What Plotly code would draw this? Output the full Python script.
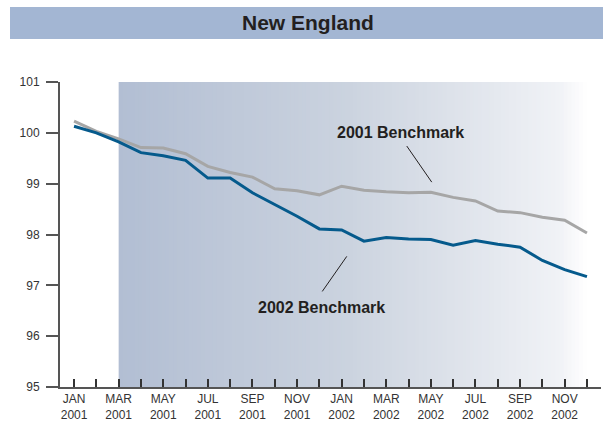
import plotly.graph_objects as go

months = ["JAN<br>2001", "FEB<br>2001", "MAR<br>2001", "APR<br>2001", "MAY<br>2001", "JUN<br>2001",
          "JUL<br>2001", "AUG<br>2001", "SEP<br>2001", "OCT<br>2001", "NOV<br>2001", "DEC<br>2001",
          "JAN<br>2002", "FEB<br>2002", "MAR<br>2002", "APR<br>2002", "MAY<br>2002", "JUN<br>2002",
          "JUL<br>2002", "AUG<br>2002", "SEP<br>2002", "OCT<br>2002", "NOV<br>2002", "DEC<br>2002"]

bench_2001 = [100.23, 100.03, 99.88, 99.71, 99.70, 99.59, 99.34, 99.22, 99.13, 98.90, 98.86, 98.78,
              98.95, 98.87, 98.84, 98.82, 98.83, 98.73, 98.66, 98.46, 98.43, 98.34, 98.28, 98.03]
bench_2002 = [100.13, 100.00, 99.82, 99.61, 99.55, 99.46, 99.11, 99.11, 98.82, 98.59, 98.36, 98.11,
              98.09, 97.87, 97.94, 97.91, 97.90, 97.79, 97.88, 97.81, 97.75, 97.49, 97.31, 97.17]

y_ticks = [95, 96, 97, 98, 99, 100, 101]

x = list(range(len(months)))
ticktext = [m if i % 2 == 0 else "" for i, m in enumerate(months)]

fig = go.Figure()

# gradient background (Mar 2001 .. Dec 2002)
stops = [(0.0, (178, 190, 211)), (0.49, (203, 211, 223)), (0.71, (221, 226, 234)),
         (0.94, (240, 242, 246)), (1.0, (255, 255, 255))]

def col(t):
    for (t0, c0), (t1, c1) in zip(stops[:-1], stops[1:]):
        if t0 <= t <= t1:
            f = (t - t0) / (t1 - t0)
            return "rgb(%d,%d,%d)" % tuple(round(a + (b - a) * f) for a, b in zip(c0, c1))
    return "rgb(255,255,255)"

shapes = []
N = 120
x0, x1 = 2, 23
for i in range(N):
    a = x0 + (x1 - x0) * i / N
    shapes.append(dict(type="rect", xref="x", yref="y", x0=a, x1=x1, y0=95, y1=101,
                       fillcolor=col((i + 0.5) / N), line=dict(width=0), layer="below"))

# title banner
shapes.append(dict(type="rect", xref="paper", yref="paper", x0=(10 - 60) / 541, x1=(603 - 60) / 541,
                   y0=(387 - 39) / 305, y1=(387 - 7) / 305, fillcolor="#a3b6d3",
                   line=dict(width=0), layer="below"))
# pointer lines
shapes.append(dict(type="line", xref="x", yref="y", x0=14.92, y0=99.74, x1=16.04, y1=99.03,
                   line=dict(color="#231f20", width=1)))
shapes.append(dict(type="line", xref="x", yref="y", x0=11.13, y0=96.88, x1=12.23, y1=97.57,
                   line=dict(color="#231f20", width=1)))

fig.add_trace(go.Scatter(x=x, y=bench_2001, mode="lines", line=dict(color="#a6a6a6", width=3),
                         name="2001 Benchmark", showlegend=False))
fig.add_trace(go.Scatter(x=x, y=bench_2002, mode="lines", line=dict(color="#055a8c", width=3),
                         name="2002 Benchmark", showlegend=False))

annotations = [
    dict(text="<b>New England</b>", xref="paper", yref="paper", x=(308 - 60) / 541, y=(387 - 23) / 305,
         showarrow=False, font=dict(family="Arial", size=21, color="#231f20"), xanchor="center", yanchor="middle"),
    dict(text="<b>2001 Benchmark</b>", xref="x", yref="y", x=14.66, y=100.0, showarrow=False,
         font=dict(family="Arial", size=16, color="#231f20"), xanchor="center", yanchor="middle"),
    dict(text="<b>2002 Benchmark</b>", xref="x", yref="y", x=11.08, y=96.57, showarrow=False,
         font=dict(family="Arial", size=16, color="#231f20"), xanchor="center", yanchor="middle"),
]

fig.update_layout(
    width=603, height=423,
    margin=dict(l=60, r=2, t=82, b=36),
    paper_bgcolor="white", plot_bgcolor="white",
    shapes=shapes, annotations=annotations,
    xaxis=dict(range=[-0.63, 23.63], tickvals=x, ticktext=ticktext, ticks="inside", ticklen=8,
               tickwidth=1.5, tickcolor="#333", showline=True, linecolor="#555", linewidth=2,
               showgrid=False, zeroline=False, tickangle=0,
               tickfont=dict(family="Arial", size=12, color="#333")),
    yaxis=dict(range=[95, 101], tickvals=y_ticks, ticks="outside", ticklen=12, tickwidth=1.5,
               tickcolor="#555", showline=True, linecolor="#555", linewidth=2, showgrid=False,
               zeroline=False, ticklabelstandoff=4,
               tickfont=dict(family="Arial", size=12, color="#333")),
)

fig.write_html("out.html", config={"displayModeBar": False},
               post_script="document.body.style.margin='0';document.body.style.padding='0';")
